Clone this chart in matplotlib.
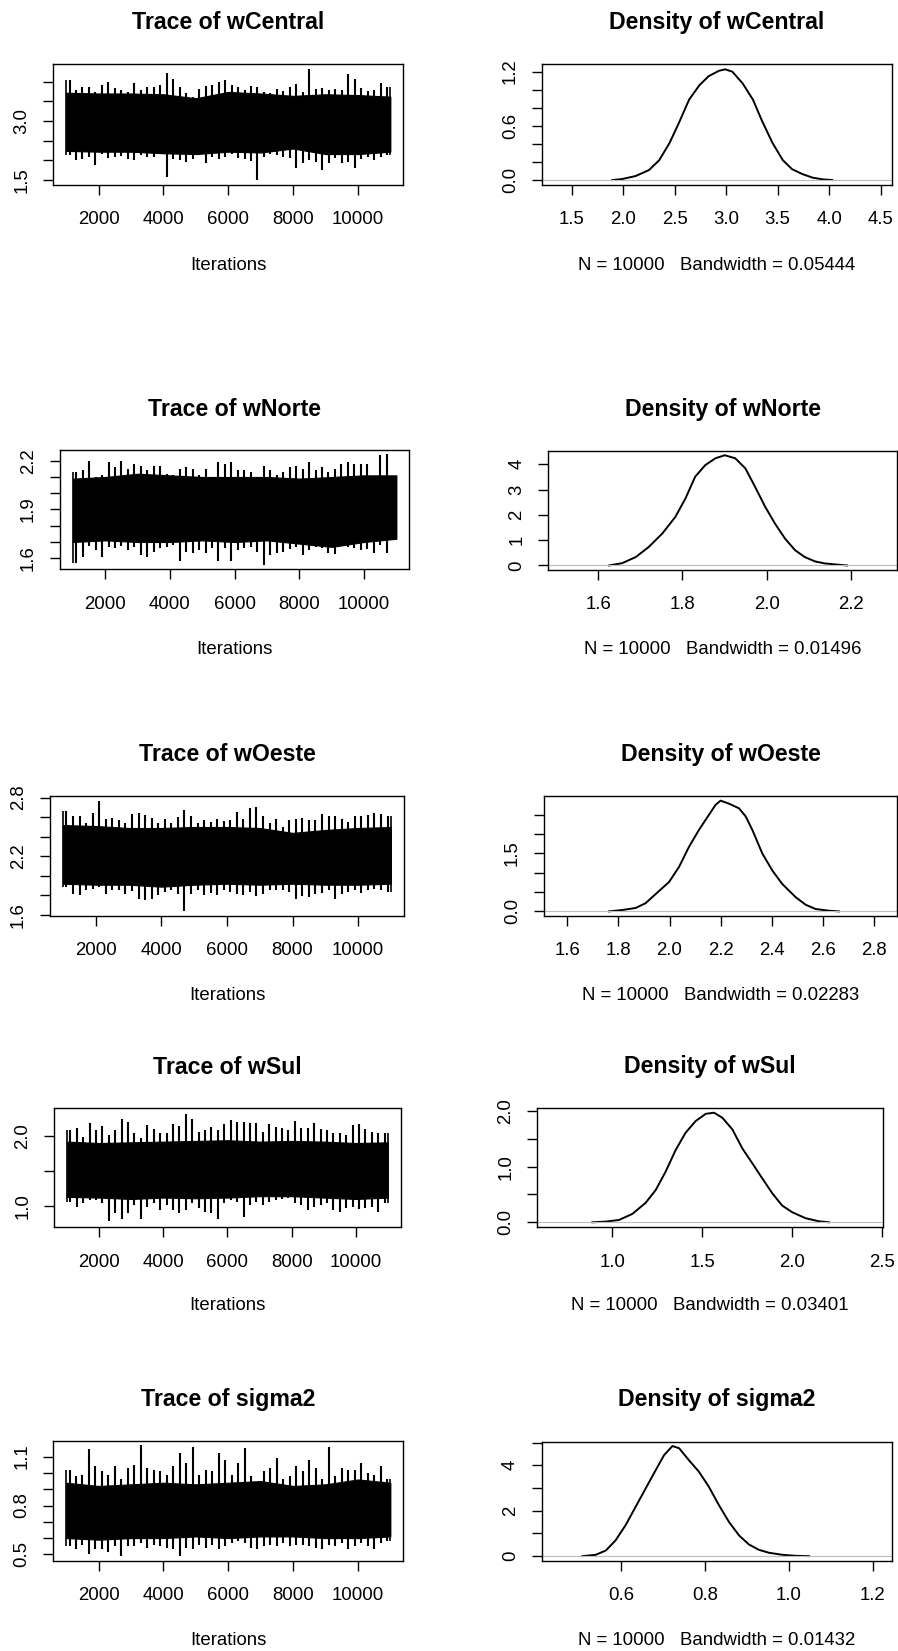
import numpy as np
import matplotlib
matplotlib.use("Agg")
import matplotlib.pyplot as plt

plt.rcParams["font.family"] = ["Liberation Sans", "DejaVu Sans"]

W, H = 898, 1651

# ---------------------------------------------------------------- data
params = ["wCentral", "wNorte", "wOeste", "wSul", "sigma2"]
bandwidths = ["0.05444", "0.01496", "0.02283", "0.03401", "0.01432"]
n_samples = 10000
iter_first, iter_last = 1001, 11000
bin_centres = np.arange(1100, 11000, 200)        # 50 bins of 200 iterations
band_iters = [1001, 2000, 3000, 4000, 5000, 6000, 7000, 8000, 9000, 10000, 11000]

# trace: max / min of the chain inside each 200-iteration bin
wcentral_top = [4.04, 3.79, 3.87, 3.86, 3.75, 3.92, 4.00, 3.83, 3.79, 3.75,
                3.97, 3.79, 3.86, 3.86, 3.92, 4.23, 4.08, 3.86, 3.70, 3.62,
                3.81, 3.89, 3.92, 4.00, 4.04, 3.92, 3.87, 3.79, 3.89, 3.86,
                3.75, 3.70, 3.81, 3.77, 3.86, 3.94, 3.75, 4.32, 3.81, 3.83,
                3.79, 3.81, 3.79, 4.19, 4.08, 3.83, 3.77, 3.79, 3.97, 3.86]
wcentral_bottom = [2.14, 2.01, 2.03, 2.09, 1.88, 2.16, 2.05, 2.09, 2.11, 2.03,
                   2.01, 2.14, 2.08, 2.09, 2.16, 1.58, 2.03, 2.01, 1.97, 2.03,
                   2.14, 1.92, 2.09, 2.03, 2.08, 2.16, 2.05, 2.03, 1.99, 1.50,
                   2.09, 2.16, 2.14, 2.09, 2.05, 1.80, 1.92, 2.01, 1.97, 1.75,
                   1.92, 2.05, 1.92, 1.97, 1.80, 2.03, 2.09, 2.01, 2.08, 2.14]
# dense part of the chain (upper / lower edge every 1000 iterations)
wcentral_band_hi = [3.72, 3.70, 3.70, 3.68, 3.58, 3.74, 3.70, 3.64, 3.68, 3.66, 3.62]
wcentral_band_lo = [2.24, 2.22, 2.22, 2.18, 2.16, 2.22, 2.20, 2.30, 2.16, 2.16, 2.22]

wnorte_top = [2.13, 2.14, 2.20, 2.10, 2.11, 2.19, 2.16, 2.20, 2.15, 2.18,
              2.17, 2.14, 2.17, 2.17, 2.12, 2.11, 2.15, 2.16, 2.15, 2.11,
              2.15, 2.10, 2.19, 2.18, 2.19, 2.14, 2.14, 2.13, 2.10, 2.17,
              2.14, 2.11, 2.13, 2.16, 2.17, 2.15, 2.19, 2.14, 2.16, 2.13,
              2.15, 2.18, 2.19, 2.18, 2.18, 2.18, 2.10, 2.235, 2.24, 2.08]
wnorte_bottom = [1.57, 1.61, 1.675, 1.65, 1.61, 1.67, 1.66, 1.675, 1.65, 1.67,
                 1.62, 1.61, 1.64, 1.66, 1.67, 1.68, 1.58, 1.64, 1.63, 1.65,
                 1.63, 1.66, 1.585, 1.66, 1.58, 1.65, 1.66, 1.67, 1.64, 1.56,
                 1.62, 1.63, 1.64, 1.655, 1.67, 1.62, 1.65, 1.67, 1.66, 1.63,
                 1.625, 1.69, 1.67, 1.66, 1.65, 1.655, 1.63, 1.68, 1.63, 1.72]
wnorte_band_hi = [2.09, 2.10, 2.12, 2.11, 2.10, 2.10, 2.10, 2.09, 2.10, 2.11, 2.11]
wnorte_band_lo = [1.70, 1.71, 1.70, 1.70, 1.71, 1.70, 1.71, 1.69, 1.67, 1.70, 1.72]

woeste_top = [2.66, 2.61, 2.61, 2.54, 2.64, 2.77, 2.58, 2.59, 2.57, 2.54,
              2.63, 2.64, 2.62, 2.59, 2.54, 2.58, 2.54, 2.60, 2.67, 2.61,
              2.54, 2.57, 2.55, 2.58, 2.56, 2.57, 2.65, 2.58, 2.69, 2.70,
              2.61, 2.54, 2.58, 2.50, 2.57, 2.58, 2.59, 2.57, 2.57, 2.63,
              2.61, 2.61, 2.58, 2.55, 2.61, 2.61, 2.62, 2.64, 2.63, 2.61]
woeste_bottom = [1.89, 1.82, 1.80, 1.86, 1.87, 1.89, 1.82, 1.86, 1.86, 1.82,
                 1.85, 1.76, 1.75, 1.76, 1.80, 1.84, 1.86, 1.82, 1.64, 1.82,
                 1.86, 1.80, 1.83, 1.80, 1.86, 1.84, 1.82, 1.80, 1.84, 1.79,
                 1.82, 1.86, 1.86, 1.86, 1.84, 1.76, 1.79, 1.78, 1.82, 1.83,
                 1.86, 1.76, 1.82, 1.84, 1.86, 1.83, 1.86, 1.87, 1.86, 1.84]
woeste_band_hi = [2.52, 2.51, 2.49, 2.49, 2.50, 2.50, 2.49, 2.44, 2.47, 2.49, 2.50]
woeste_band_lo = [1.92, 1.91, 1.91, 1.89, 1.91, 1.92, 1.91, 1.92, 1.91, 1.91, 1.92]

wsul_top = [2.09, 2.11, 1.99, 2.18, 2.09, 2.14, 2.01, 2.09, 2.24, 2.20,
            2.04, 1.97, 2.16, 2.10, 2.04, 2.04, 2.17, 2.14, 2.32, 2.25,
            2.06, 2.09, 2.13, 2.09, 2.17, 2.23, 2.20, 2.20, 2.18, 2.19,
            2.06, 2.17, 2.13, 2.11, 2.09, 2.22, 2.11, 2.12, 2.19, 2.10,
            2.08, 2.04, 2.04, 2.01, 2.16, 2.17, 2.10, 2.06, 2.04, 2.04]
wsul_bottom = [1.06, 0.99, 1.04, 1.09, 1.09, 1.04, 0.78, 0.90, 0.81, 0.90,
               1.01, 0.82, 0.99, 1.04, 0.94, 1.01, 0.94, 0.90, 0.94, 1.04,
               0.97, 0.92, 0.90, 0.82, 1.04, 1.08, 1.05, 0.84, 1.01, 1.06,
               1.01, 1.05, 1.09, 1.10, 1.11, 1.04, 1.01, 0.94, 0.99, 1.01,
               1.04, 0.94, 0.92, 0.97, 0.99, 0.95, 0.97, 0.99, 0.91, 1.04]
wsul_band_hi = [1.92, 1.90, 1.91, 1.92, 1.93, 1.94, 1.92, 1.93, 1.92, 1.90, 1.91]
wsul_band_lo = [1.13, 1.12, 1.10, 1.12, 1.11, 1.12, 1.14, 1.14, 1.12, 1.10, 1.12]

sigma2_top = [1.02, 0.98, 0.99, 1.15, 1.04, 1.01, 0.99, 1.04, 0.96, 1.03,
              1.05, 1.17, 1.03, 1.02, 1.01, 0.99, 1.04, 1.12, 1.06, 1.16,
              0.99, 1.02, 1.01, 1.12, 1.08, 0.99, 1.06, 1.155, 0.98, 0.94,
              1.01, 1.03, 1.09, 0.96, 0.98, 1.04, 1.01, 1.08, 1.03, 0.96,
              1.16, 0.98, 1.03, 1.02, 1.02, 1.06, 1.00, 0.99, 1.04, 0.96]
sigma2_bottom = [0.55, 0.53, 0.56, 0.505, 0.53, 0.53, 0.515, 0.55, 0.49, 0.55,
                 0.55, 0.57, 0.54, 0.56, 0.55, 0.54, 0.53, 0.49, 0.54, 0.53,
                 0.56, 0.54, 0.56, 0.53, 0.55, 0.57, 0.58, 0.57, 0.54, 0.53,
                 0.55, 0.56, 0.55, 0.57, 0.55, 0.56, 0.56, 0.55, 0.54, 0.53,
                 0.56, 0.55, 0.57, 0.53, 0.55, 0.57, 0.55, 0.53, 0.57, 0.58]
sigma2_band_hi = [0.94, 0.92, 0.93, 0.94, 0.93, 0.94, 0.95, 0.92, 0.93, 0.96, 0.94]
sigma2_band_lo = [0.60, 0.59, 0.60, 0.60, 0.61, 0.60, 0.61, 0.61, 0.60, 0.60, 0.61]

# kernel density estimates
wcentral_dens_x = [1.895, 1.99, 2.12, 2.25, 2.35, 2.45, 2.54, 2.64, 2.74, 2.83, 2.93, 2.99,
                   3.06, 3.16, 3.26, 3.35, 3.45, 3.55, 3.64, 3.74, 3.84, 3.94, 4.03]
wcentral_dens_y = [0.0, 0.011, 0.044, 0.11, 0.22, 0.41, 0.63, 0.89, 1.05, 1.15, 1.21, 1.226,
                   1.20, 1.07, 0.89, 0.65, 0.41, 0.22, 0.12, 0.066, 0.026, 0.007, 0.0]

wnorte_dens_x = [1.626, 1.657, 1.689, 1.72, 1.752, 1.783, 1.807, 1.83, 1.854, 1.878, 1.90,
                 1.925, 1.949, 1.972, 1.996, 2.019, 2.043, 2.067, 2.09, 2.114, 2.137, 2.169, 2.19]
wnorte_dens_y = [0.0, 0.09, 0.33, 0.73, 1.26, 1.92, 2.65, 3.51, 3.97, 4.24, 4.36,
                 4.24, 3.84, 3.11, 2.32, 1.66, 1.06, 0.60, 0.33, 0.16, 0.08, 0.03, 0.0]

woeste_dens_x = [1.763, 1.815, 1.867, 1.906, 1.946, 1.998, 2.037, 2.076, 2.115, 2.154, 2.18, 2.20,
                 2.233, 2.272, 2.298, 2.324, 2.363, 2.402, 2.441, 2.493, 2.533, 2.572, 2.624, 2.663]
woeste_dens_y = [0.0, 0.035, 0.087, 0.21, 0.45, 0.76, 1.15, 1.67, 2.11, 2.50, 2.76, 2.87,
                 2.79, 2.67, 2.46, 2.11, 1.50, 1.06, 0.71, 0.37, 0.17, 0.06, 0.017, 0.0]

wsul_dens_x = [0.889, 0.963, 1.037, 1.111, 1.185, 1.241, 1.296, 1.352, 1.407, 1.463, 1.519, 1.565,
               1.611, 1.667, 1.722, 1.778, 1.833, 1.889, 1.944, 2.0, 2.074, 2.148, 2.204]
wsul_dens_y = [0.0, 0.012, 0.042, 0.15, 0.35, 0.58, 0.91, 1.30, 1.61, 1.82, 1.95, 1.97,
               1.88, 1.67, 1.33, 1.06, 0.79, 0.52, 0.30, 0.18, 0.073, 0.018, 0.0]

sigma2_dens_x = [0.507, 0.539, 0.563, 0.586, 0.61, 0.634, 0.658, 0.682, 0.702, 0.722, 0.738, 0.761,
                 0.785, 0.809, 0.833, 0.857, 0.881, 0.904, 0.928, 0.952, 0.984, 1.016, 1.048]
sigma2_dens_y = [0.0, 0.06, 0.25, 0.69, 1.36, 2.17, 2.98, 3.79, 4.45, 4.85, 4.75, 4.23,
                 3.72, 3.05, 2.24, 1.50, 0.91, 0.52, 0.28, 0.15, 0.06, 0.015, 0.0]

# axis ticks (all ticks, labelled subset)
trace_xticks = [2000, 4000, 6000, 8000, 10000]
trace_yticks = [
    ([1.5, 2.0, 2.5, 3.0, 3.5, 4.0], [1.5, 3.0]),
    ([1.6, 1.7, 1.8, 1.9, 2.0, 2.1, 2.2], [1.6, 1.9, 2.2]),
    ([1.6, 1.8, 2.0, 2.2, 2.4, 2.6, 2.8], [1.6, 2.2, 2.8]),
    ([1.0, 1.5, 2.0], [1.0, 2.0]),
    ([0.5, 0.6, 0.7, 0.8, 0.9, 1.0, 1.1], [0.5, 0.8, 1.1]),
]
dens_xticks = [
    [1.5, 2.0, 2.5, 3.0, 3.5, 4.0, 4.5],
    [1.6, 1.8, 2.0, 2.2],
    [1.6, 1.8, 2.0, 2.2, 2.4, 2.6, 2.8],
    [1.0, 1.5, 2.0, 2.5],
    [0.6, 0.8, 1.0, 1.2],
]
dens_yticks = [
    ([0.0, 0.2, 0.4, 0.6, 0.8, 1.0, 1.2], [0.0, 0.6, 1.2], "{:.1f}"),
    ([0, 1, 2, 3, 4], [0, 1, 2, 3, 4], "{:.0f}"),
    ([0.0, 0.5, 1.0, 1.5, 2.0, 2.5], [0.0, 1.5], "{:.1f}"),
    ([0.0, 0.5, 1.0, 1.5, 2.0], [0.0, 1.0, 2.0], "{:.1f}"),
    ([0, 1, 2, 3, 4, 5], [0, 2, 4], "{:.0f}"),
]

traces = [
    (wcentral_top, wcentral_bottom, wcentral_band_hi, wcentral_band_lo),
    (wnorte_top, wnorte_bottom, wnorte_band_hi, wnorte_band_lo),
    (woeste_top, woeste_bottom, woeste_band_hi, woeste_band_lo),
    (wsul_top, wsul_bottom, wsul_band_hi, wsul_band_lo),
    (sigma2_top, sigma2_bottom, sigma2_band_hi, sigma2_band_lo),
]
densities = [
    (wcentral_dens_x, wcentral_dens_y),
    (wnorte_dens_x, wnorte_dens_y),
    (woeste_dens_x, woeste_dens_y),
    (wsul_dens_x, wsul_dens_y),
    (sigma2_dens_x, sigma2_dens_y),
]

# ---------------------------------------------------------------- layout (pixels)
trace_rects = [(53.3, 64, 403.3, 185), (60, 450, 409.3, 569.3), (50, 796, 404, 916),
               (54.3, 1107.7, 400.7, 1227.3), (53.3, 1440.7, 403.3, 1560.7)]
dens_rects = [(541.7, 64, 891.7, 185), (548.3, 450.7, 897.3, 570), (544, 796, 897.3, 916),
              (537.3, 1107.7, 883, 1227.3), (541.7, 1441.7, 891.7, 1560.7)]
trace_ylims = [(1.373, 4.45), (1.532, 2.266), (1.59, 2.817), (0.695, 2.405), (0.461, 1.198)]
dens_xlims = [(1.209, 4.607), (1.482, 2.309), (1.509, 2.891), (0.583, 2.504), (0.410, 1.245)]
dens_ylims = [(-0.055, 1.285), (-0.18, 4.54), (-0.12, 2.99), (-0.09, 2.06), (-0.2, 5.04)]
title_y = [22.5, 409, 754, 1067, 1399]
label_y = [265, 650, 995, 1305, 1640]

TICK_FS = 13.4
TITLE_FS = 16.7

fig = plt.figure(figsize=(W / 100, H / 100), dpi=100)
fig.patch.set_facecolor("white")


def px_axes(rect):
    l, t, r, b = rect
    return fig.add_axes([l / W, 1 - b / H, (r - l) / W, (b - t) / H])


def fig_text(x, y, s, **kw):
    fig.text(x / W, 1 - y / H, s, ha="center", va="center", **kw)


def style_axes(ax, xt, xl, yt, yl):
    ax.set_xticks(xt)
    ax.set_xticklabels(xl)
    ax.set_yticks(yt)
    ax.set_yticklabels(yl, rotation=90, va="center")
    ax.tick_params(axis="both", direction="out", length=7.5, width=1.0,
                   labelsize=TICK_FS, colors="black")
    ax.tick_params(axis="x", pad=11.5)
    ax.tick_params(axis="y", pad=9.0)
    for s in ax.spines.values():
        s.set_linewidth(1.0)
        s.set_color("black")


for k, name in enumerate(params):
    # ---- trace panel: dense band of the chain plus per-bin excursions
    top, bottom, band_hi, band_lo = traces[k]
    ax = px_axes(trace_rects[k])
    ax.fill_between(band_iters, band_lo, band_hi, color="black", lw=0.8,
                    edgecolor="black")
    ax.vlines(bin_centres, bottom, top, color="black", lw=1.5)
    ax.vlines([iter_first, iter_last], [bottom[0], bottom[-1]], [top[0], top[-1]],
              color="black", lw=1.2)
    ax.set_xlim(600, 11400)
    ax.set_ylim(*trace_ylims[k])
    yt, ylab = trace_yticks[k]
    style_axes(ax, trace_xticks, [str(v) for v in trace_xticks],
               yt, [f"{v:.1f}" if v in ylab else "" for v in yt])
    cx = (trace_rects[k][0] + trace_rects[k][2]) / 2
    fig_text(cx, title_y[k], f"Trace of {name}", fontsize=TITLE_FS, fontweight="bold")
    fig_text(cx, label_y[k], "Iterations", fontsize=TICK_FS)

    # ---- density panel
    dx, dy = densities[k]
    ax = px_axes(dens_rects[k])
    ax.plot(dx, dy, color="black", lw=1.4, solid_joinstyle="round")
    ax.axhline(0, color="#bdbdbd", lw=0.8)
    ax.set_xlim(*dens_xlims[k])
    ax.set_ylim(*dens_ylims[k])
    yt, ylab, f = dens_yticks[k]
    style_axes(ax, dens_xticks[k], [f"{v:.1f}" for v in dens_xticks[k]],
               yt, [f.format(v) if v in ylab else "" for v in yt])
    cx = (dens_rects[k][0] + dens_rects[k][2]) / 2
    fig_text(cx, title_y[k], f"Density of {name}", fontsize=TITLE_FS, fontweight="bold")
    fig_text(cx, label_y[k], f"N = {n_samples}   Bandwidth = {bandwidths[k]}",
             fontsize=TICK_FS)

fig.savefig("out.png", dpi=100, facecolor="white")
